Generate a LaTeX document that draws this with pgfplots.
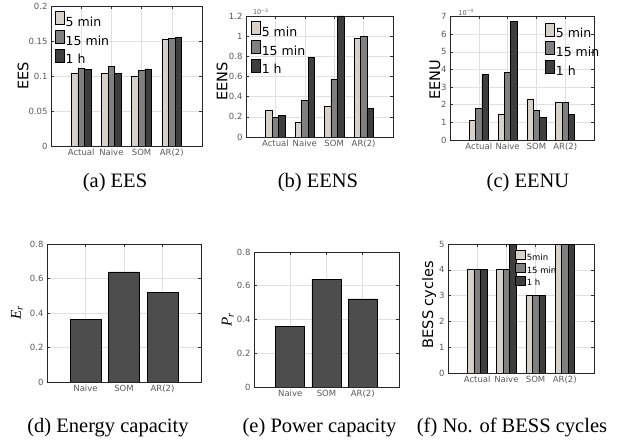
\documentclass[border=0pt]{standalone}
\usepackage{fontspec}
\setmainfont{Liberation Serif}
\newfontfamily\dejavu{DejaVu Sans}
\usepackage{pgfplots}
\pgfplotsset{compat=1.18}
\definecolor{cA}{HTML}{D6D2CA}
\definecolor{cB}{HTML}{808080}
\definecolor{cC}{HTML}{3E3E3E}
\definecolor{cD}{HTML}{4D4D4D}
\newcommand\tickfont{\dejavu\fontsize{8.5}{9.5}\selectfont}
\newcommand\legfont{\dejavu\fontsize{12.5}{14}\selectfont}
\newcommand\legfontS{\dejavu\fontsize{8.5}{10}\selectfont}
\newcommand\labfont{\dejavu\fontsize{14.5}{17}\selectfont}
\newcommand\capfont{\fontsize{20.5}{24}\selectfont}
\def\legW{9pt}\def\legYa{-2pt}\def\legYb{11pt}
\pgfplotsset{
  matlab/.style={
    scale only axis, anchor=north west, clip mode=individual,
    tick align=inside, tick pos=both, major tick length=3pt,
    grid=major, major grid style={draw=black!12, line width=0.5pt},
    axis line style={draw=black!85, line width=0.6pt},
    every tick/.style={draw=black!80, line width=0.5pt},
    tick label style={font=\tickfont, text=black!65},
    /pgf/number format/assume math mode=true,
    yticklabel style={/pgf/number format/fixed, /pgf/number format/precision=2},
    scaled y ticks=false,
    ymin=0, xmin=0, xmax=5, xtick={1,2,3,4},
    xticklabels={Actual,Naive,SOM,AR(2)},
    legend style={draw=none, fill=none, font=\legfont, inner sep=0pt,
      anchor=north west, nodes={inner sep=1pt}, row sep=1pt},
    legend cell align=left,
    every axis y label/.style={rotate=90, anchor=center, font=\labfont},
  },
  gbar/.style={ybar, bar width=0.22, draw=black, line width=0.6pt,
    legend image code/.code={\draw[##1] (0pt,\legYa) rectangle (\legW,\legYb);}},
}
\begin{document}
\begin{tikzpicture}[x=1pt,y=1pt]
\path[use as bounding box] (0,0) rectangle (633,-441);

% (a) EES
\begin{axis}[matlab, at={(51pt,-6pt)}, width=151pt, height=140pt,
  ymax=0.2, ytick={0,0.05,0.1,0.15,0.2},
  ylabel={EES}, ylabel style={at={(axis description cs:-0.185,0.5)}},
  legend style={at={(0.026,0.965)}}]
\addplot[gbar, fill=cA, bar shift=-0.22] coordinates {(1,0.104) (2,0.104) (3,0.0995) (4,0.153)};
\addplot[gbar, fill=cB, bar shift=0] coordinates {(1,0.1105) (2,0.1135) (3,0.108) (4,0.154)};
\addplot[gbar, fill=cC, bar shift=0.22] coordinates {(1,0.109) (2,0.104) (3,0.110) (4,0.155)};
\legend{5 min,15 min,1 h}
\end{axis}

% (b) EENS
\begin{axis}[matlab, at={(246pt,-16pt)}, width=147pt, height=121pt,
  ymax=1.2, ytick={0,0.2,0.4,0.6,0.8,1,1.2},
  ylabel={EENS}, ylabel style={at={(axis description cs:-0.163,0.46)}},
  legend style={at={(0.034,0.96)}}]
\addplot[gbar, fill=cA, bar shift=-0.22] coordinates {(1,0.26) (2,0.149) (3,0.304) (4,0.975)};
\addplot[gbar, fill=cB, bar shift=0] coordinates {(1,0.198) (2,0.364) (3,0.569) (4,0.998)};
\addplot[gbar, fill=cC, bar shift=0.22] coordinates {(1,0.218) (2,0.787) (3,1.2) (4,0.284)};
\legend{5 min,15 min,1 h}
\node[anchor=south west, inner sep=1pt, font=\dejavu\fontsize{6.5}{7}\selectfont, text=black!65] at (axis description cs:0.04,1) {10\textsuperscript{−3}};
\end{axis}

% (c) EENU
\begin{axis}[matlab, at={(450pt,-16.5pt)}, width=144pt, height=123.5pt,
  ymax=7, ytick={0,1,2,3,4,5,6,7},
  ylabel={EENU}, ylabel style={at={(axis description cs:-0.104,0.49)}},
  legend style={at={(0.66,0.952)}}]
\addplot[gbar, fill=cA, bar shift=-0.22] coordinates {(1,1.09) (2,1.45) (3,2.33) (4,2.12)};
\addplot[gbar, fill=cB, bar shift=0] coordinates {(1,1.77) (2,3.84) (3,1.70) (4,2.12)};
\addplot[gbar, fill=cC, bar shift=0.22] coordinates {(1,3.70) (2,6.72) (3,1.26) (4,1.45)};
\legend{5 min,15 min,1 h}
\node[anchor=south west, inner sep=1pt, font=\dejavu\fontsize{6.5}{7}\selectfont, text=black!65] at (axis description cs:0.05,1) {10\textsuperscript{−4}};
\end{axis}

% (d) Energy capacity
\begin{axis}[matlab, at={(47pt,-244pt)}, width=154pt, height=138pt,
  xmax=4, xtick={1,2,3}, xticklabels={Naive,SOM,AR(2)},
  ymax=0.8, ytick={0,0.2,0.4,0.6,0.8},
  ylabel={\fontsize{15}{17}\selectfont\rmfamily\itshape E\textsubscript{r}},
  ylabel style={at={(axis description cs:-0.195,0.5)}}]
\addplot[ybar, bar width=0.8, fill=cD, draw=black, line width=0.6pt] coordinates {(1,0.362) (2,0.638) (3,0.521)};
\end{axis}

% (e) Power capacity
\begin{axis}[matlab, at={(254pt,-252pt)}, width=145pt, height=135pt,
  xmax=4, xtick={1,2,3}, xticklabels={Naive,SOM,AR(2)},
  ymax=0.8, ytick={0,0.2,0.4,0.6,0.8},
  ylabel={\fontsize{15}{17}\selectfont\rmfamily\itshape P\textsubscript{r}},
  ylabel style={at={(axis description cs:-0.18,0.5)}}]
\addplot[ybar, bar width=0.8, fill=cD, draw=black, line width=0.6pt] coordinates {(1,0.361) (2,0.639) (3,0.522)};
\end{axis}

% (f) BESS cycles
\def\legW{10pt}\def\legYa{-1.5pt}\def\legYb{7.5pt}
\begin{axis}[matlab, at={(448pt,-244pt)}, width=146pt, height=129pt,
  ymax=5, ytick={0,1,2,3,4,5},
  ylabel={BESS cycles}, ylabel style={at={(axis description cs:-0.13,0.53)}},
  legend style={at={(0.459,0.955)}, font=\legfontS, row sep=0pt}]
\addplot[gbar, fill=cA, bar shift=-0.22] coordinates {(1,4) (2,4) (3,3) (4,5)};
\addplot[gbar, fill=cB, bar shift=0] coordinates {(1,4) (2,4) (3,3) (4,5)};
\addplot[gbar, fill=cC, bar shift=0.22] coordinates {(1,4) (2,5) (3,3) (4,5)};
\legend{5min,15 min,1 h}
\end{axis}

% captions
\node[anchor=base, font=\capfont] at (115,-188) {(a) EES};
\node[anchor=base, font=\capfont] at (318,-188) {(b) EENS};
\node[anchor=base, font=\capfont] at (528,-188) {(c) EENU};
\node[anchor=base, font=\capfont] at (108,-432) {(d) Energy capacity};
\node[anchor=base, font=\capfont] at (319.5,-432) {(e) Power capacity};
\node[anchor=base, font=\capfont] at (512,-432) {(f) No. of BESS cycles};
\end{tikzpicture}
\end{document}
